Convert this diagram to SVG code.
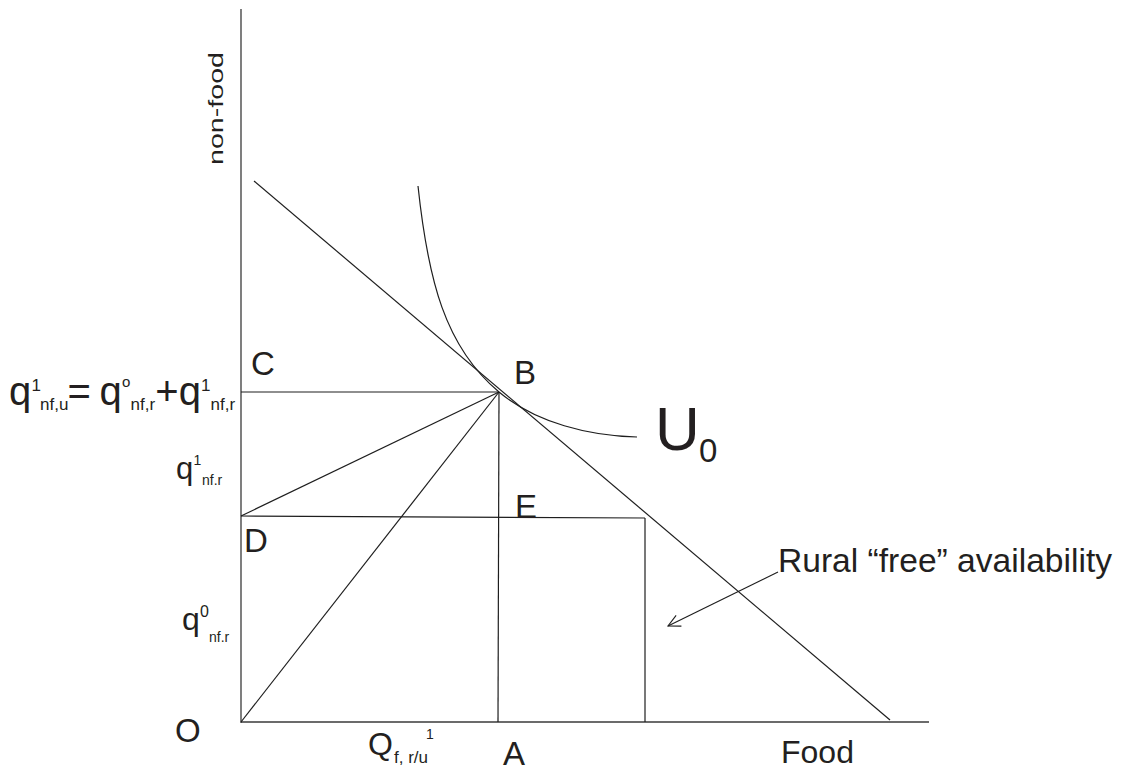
<svg xmlns="http://www.w3.org/2000/svg" width="1125" height="771" viewBox="0 0 1125 771">
<defs>
<style>
.ln{stroke:#1e1e1e;stroke-width:1.2;fill:none}
.ax{stroke:#3a3a3a;stroke-width:1.3;fill:none}
text{font-family:"Liberation Sans",Arial,sans-serif;fill:#231f20}
.lb{font-size:33px}
.mid{font-size:32px}
</style>
<marker id="ah" viewBox="0 0 14 14" refX="13" refY="7" markerWidth="14" markerHeight="14" markerUnits="userSpaceOnUse" orient="auto">
<path d="M1,1 L13,7 L1,13" fill="none" stroke="#1e1e1e" stroke-width="1.1"/>
</marker>
</defs>
<rect width="1125" height="771" fill="#ffffff"/>
<g id="axes">
<line class="ax" x1="241" y1="9" x2="241" y2="723"/>
<line class="ax" x1="241" y1="722" x2="929" y2="722"/>
</g>
<g id="connectors">
<line class="ln" x1="254" y1="181" x2="890" y2="720"/>
<path class="ln" d="M418,186 C428,280 445,347 499,392 C536,423 590,436 637,437"/>
<line class="ln" x1="241" y1="392" x2="499" y2="392"/>
<line class="ln" x1="241" y1="516" x2="499" y2="392"/>
<line class="ln" x1="241" y1="722" x2="499" y2="392"/>
<line class="ln" x1="499" y1="392" x2="498" y2="722"/>
<line class="ln" x1="241" y1="516" x2="645" y2="518"/>
<line class="ln" x1="645" y1="518" x2="645" y2="722"/>
<line class="ln" x1="778" y1="572" x2="668" y2="626" marker-end="url(#ah)"/>
</g>
<g id="labels">
<text font-size="21" transform="translate(223,165) rotate(-90)" textLength="113" lengthAdjust="spacingAndGlyphs">non-food</text>
<text class="lb" x="251" y="375">C</text>
<text class="lb" x="514" y="384">B</text>
<text class="lb" x="515" y="518">E</text>
<text class="lb" x="244" y="552">D</text>
<text class="lb" x="175" y="742">O</text>
<text class="lb" x="503" y="765">A</text>
<text class="mid" x="781" y="763">Food</text>
<text class="lb" x="778" y="572" textLength="334" lengthAdjust="spacingAndGlyphs">Rural “free” availability</text>
<text id="u0"><tspan font-size="62" x="655" y="450">U</tspan><tspan font-size="33" x="699" y="462">0</tspan></text>
<text id="q1nfu"><tspan font-size="40" x="9" y="405">q</tspan><tspan font-size="17" x="31.5" y="391">1</tspan><tspan font-size="17" x="40" y="410">nf,u</tspan><tspan font-size="40" x="67.5" y="405">=</tspan><tspan font-size="40" x="99.5" y="405">q</tspan><tspan font-size="15" x="122" y="387">o</tspan><tspan font-size="17" x="130.5" y="410">nf,r</tspan><tspan font-size="40" x="155.2" y="405">+</tspan><tspan font-size="40" x="178.7" y="405">q</tspan><tspan font-size="17" x="201" y="391">1</tspan><tspan font-size="17" x="210.5" y="410">nf,r</tspan></text>
<text id="q1nfr"><tspan font-size="31" x="176" y="479">q</tspan><tspan font-size="14" x="193.5" y="465">1</tspan><tspan font-size="14" x="202" y="485">nf.r</tspan></text>
<text id="q0nfr"><tspan font-size="32" x="182" y="630">q</tspan><tspan font-size="16" x="200" y="617">0</tspan><tspan font-size="14" x="209" y="642">nf.r</tspan></text>
<text id="qfru"><tspan font-size="32" x="368" y="755">Q</tspan><tspan font-size="17" x="394" y="763">f, r/u</tspan><tspan font-size="14" x="426" y="739">1</tspan></text>
</g>
</svg>
